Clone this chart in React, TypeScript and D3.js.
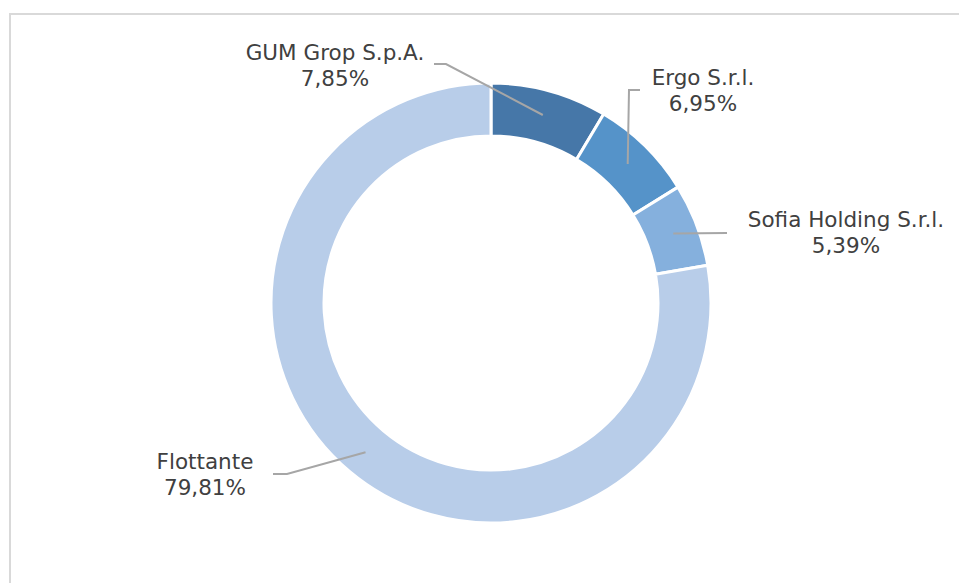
import React, { useEffect, useRef } from "react";
import * as d3 from "d3";

// slice sizes measured from the ring, label texts as printed on the chart
const holders = ["GUM Grop S.p.A.", "Ergo S.r.l.", "Sofia Holding S.r.l.", "Flottante"];
const shares = [8.56, 7.61, 6.08, 77.75];
const pctLabels = ["7,85%", "6,95%", "5,39%", "79,81%"];
const colors = ["#4677a8", "#5593c9", "#85b0dd", "#b8cde9"];

const App = () => {
  const svgRef = useRef<SVGSVGElement>(null);

  useEffect(() => {
    const width = 959;
    const height = 583;
    const cx = 491;
    const cy = 303;
    const outer = 220;
    const inner = 167;

    const svg = d3.select(svgRef.current).attr("width", width).attr("height", height);
    svg.selectAll("*").remove();

    // chart area border (clipped on the right/bottom)
    svg
      .append("path")
      .attr("d", `M10,${height} L10,14 L${width},14`)
      .attr("fill", "none")
      .attr("stroke", "#d9d9d9")
      .attr("stroke-width", 2);

    const data = holders.map((name, i) => ({ name, value: shares[i], pct: pctLabels[i], color: colors[i] }));

    const pie = d3
      .pie<any>()
      .value((d) => d.value)
      .sort(null);

    const arc = d3.arc<any>().innerRadius(inner).outerRadius(outer);
    const mid = d3.arc<any>().innerRadius(195).outerRadius(195);

    const g = svg.append("g").attr("transform", `translate(${cx},${cy})`);
    const arcs = pie(data);

    g.selectAll("path.slice")
      .data(arcs)
      .enter()
      .append("path")
      .attr("class", "slice")
      .attr("d", arc)
      .attr("fill", (d) => d.data.color)
      .attr("stroke", "#fff")
      .attr("stroke-width", 3);

    // label placement: text centre x, first baseline, and leader elbow points (page coords)
    const layout = [
      { x: 335, y: 60, pts: [[434, 64], [446, 64]] },
      { x: 703, y: 85, pts: [[640, 90], [629, 90]] },
      { x: 846, y: 227, pts: [[727, 233]] },
      { x: 205, y: 469, pts: [[273, 474], [287, 474]] },
    ];

    arcs.forEach((d, i) => {
      const [mx, my] = mid.centroid(d);
      const L = layout[i];
      const pts = [...L.pts, [cx + mx, cy + my]];
      svg
        .append("path")
        .attr("d", d3.line()(pts as [number, number][]))
        .attr("fill", "none")
        .attr("stroke", "#a6a6a6")
        .attr("stroke-width", 2);

      const t = svg
        .append("text")
        .attr("x", L.x)
        .attr("y", L.y)
        .attr("text-anchor", "middle")
        .style("font-family", "DejaVu Sans")
        .style("font-size", "21.5px")
        .style("fill", "#404040");
      t.append("tspan").attr("x", L.x).text(d.data.name);
      t.append("tspan").attr("x", L.x).attr("dy", 26).text(d.data.pct);
    });
  }, []);

  return <svg ref={svgRef} style={{ position: "absolute", left: 0, top: 0, display: "block" }}></svg>;
};

export default App;
